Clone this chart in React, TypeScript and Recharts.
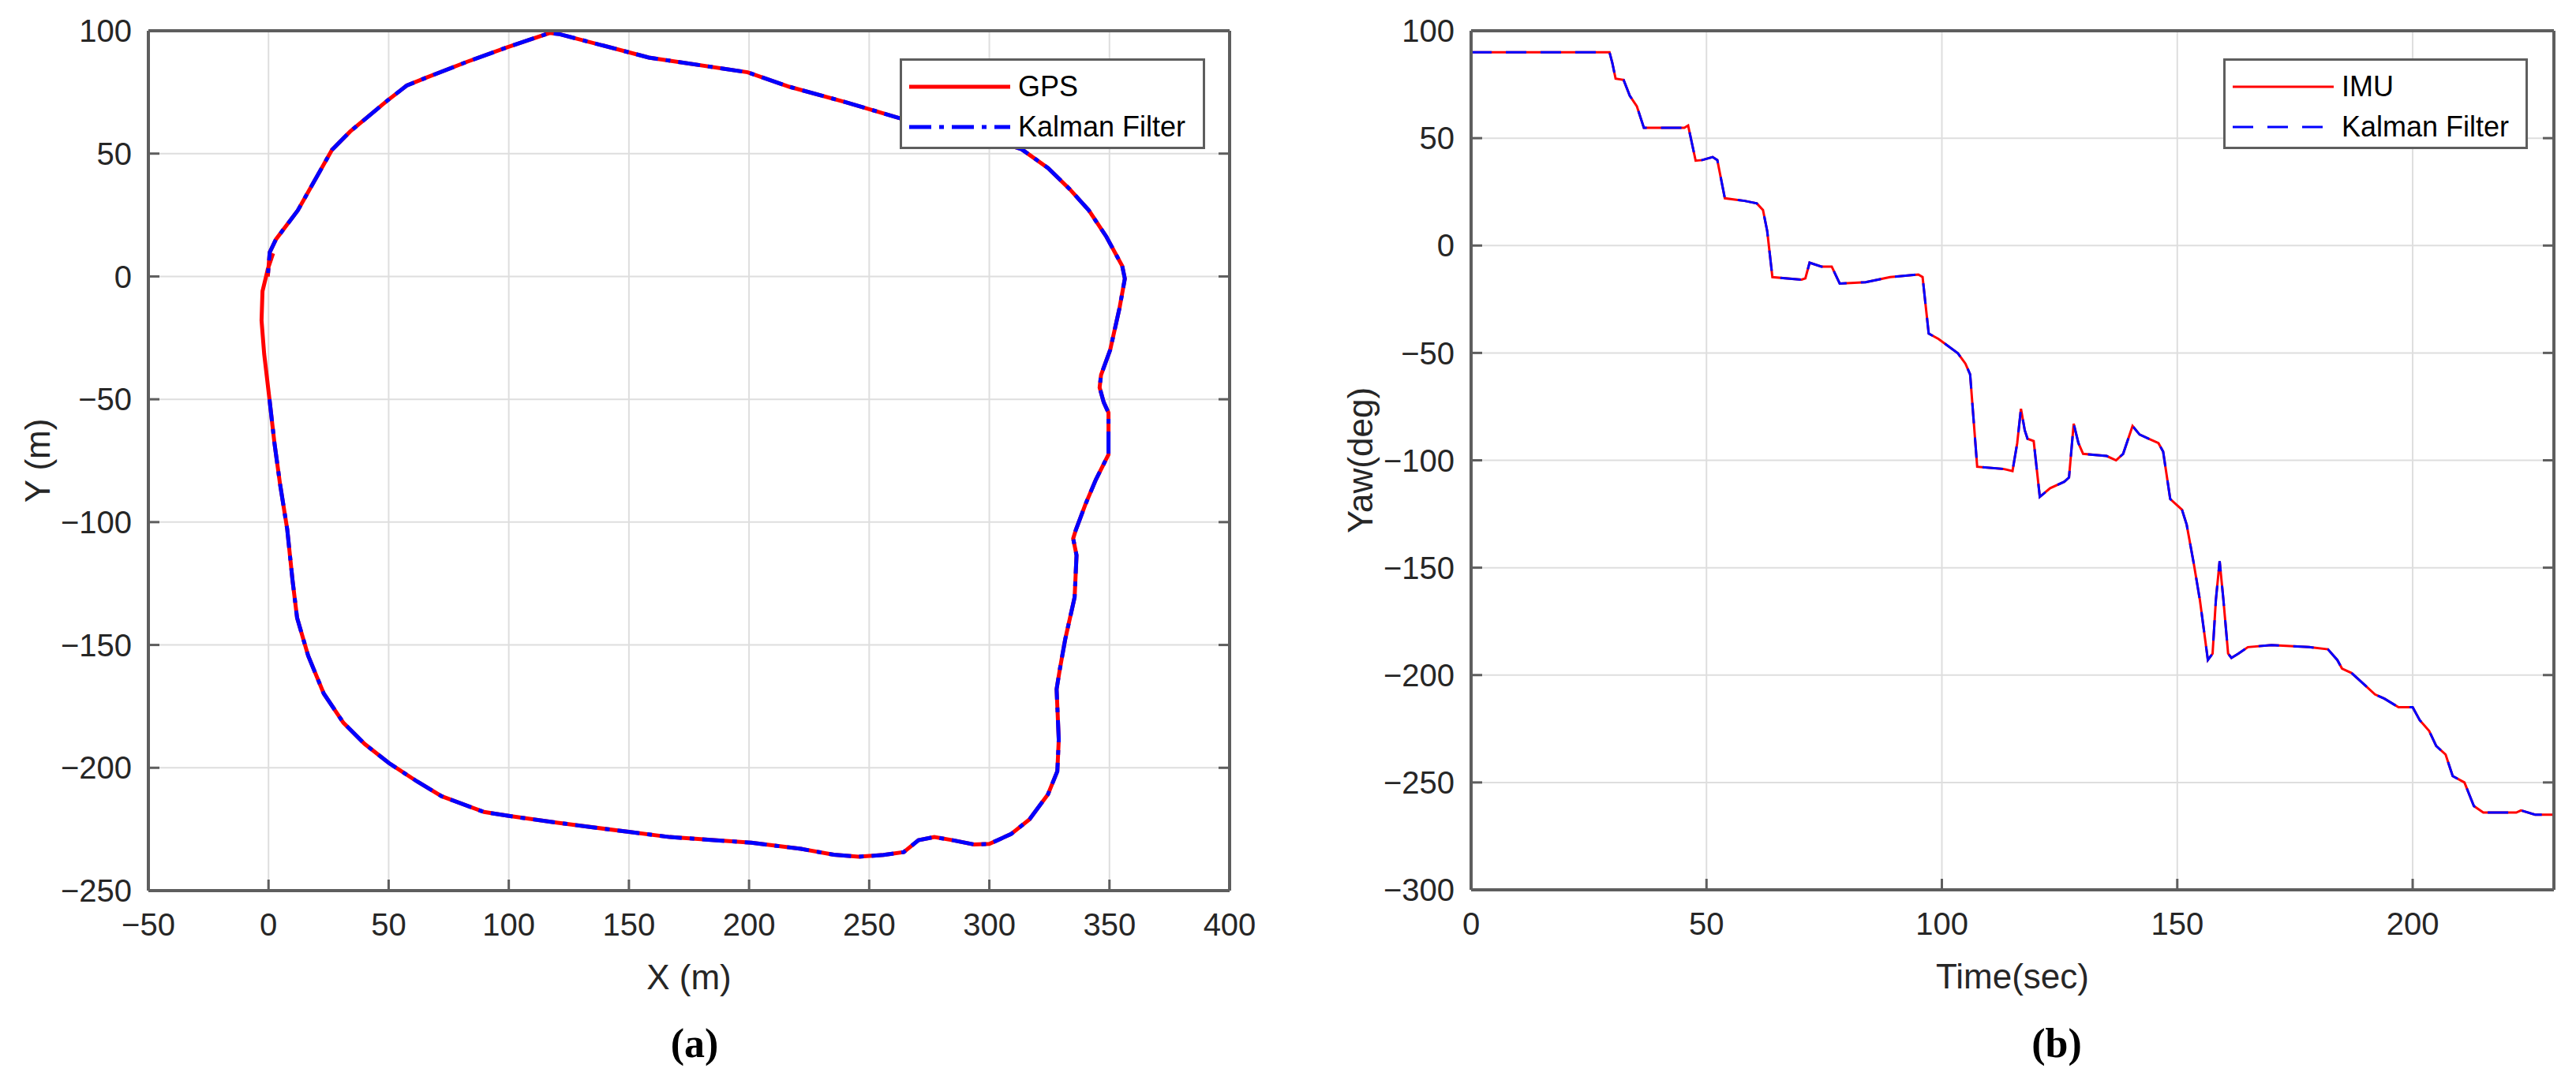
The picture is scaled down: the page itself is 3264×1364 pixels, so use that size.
import { CartesianGrid, Line, LineChart, XAxis, YAxis } from "recharts"

// (a) trajectory in metres
const loopX = [
  0.4, 2.5, 4.8, 7.8, 10, 11.9, 16.5, 23, 31.2, 40, 50, 61.9, 72.1, 89.7, 100, 120.4,
  150, 167, 201, 221.6, 235.3, 245.6, 256, 264.4, 270.5, 277.1, 284.8, 293.6, 300, 309,
  316.7, 324.4, 328.3, 328.9, 328, 329.4, 331.6, 335.5, 336.3, 334.9, 336, 339.9, 344.3,
  349.6, 349.6, 347.6, 345.9, 346.5, 350.3, 354.2, 356.4, 355.3, 348.7, 341.4, 333.5,
  324.5, 313.4, 300, 285, 262.7, 240, 216.8, 199.4, 158.3, 121.2, 117, 99.4, 82.7, 65.9,
  57.5, 49.1, 34, 26.4, 12.2, 3.1, 0.5, -0.3,
]
const loopY = [
  -50, -68, -84.5, -103, -123.7, -139, -154.4, -169.8, -181.7, -190.3, -198, -205.6,
  -211.6, -218, -219.6, -222.4, -226.1, -228.2, -230.5, -233, -235.4, -236.2, -235.5,
  -234.3, -229.5, -228.2, -229.5, -231.2, -231, -227, -221, -210.8, -201.4, -188.6, -168,
  -159.6, -147.6, -130.6, -113.5, -106.7, -103.2, -93, -82.8, -72.5, -55.5, -51.2, -45.2,
  -40.1, -29.9, -12.8, -0.9, 4.3, 16.2, 26.9, 35.5, 44.1, 51.8, 56, 60, 64.4, 71, 77.2,
  83.1, 89.1, 98.6, 99.1, 93.3, 87.4, 81, 77.7, 71.3, 59, 51.5, 26.9, 15.1, 9.8, 0,
]
// GPS only: the short stretch near the origin before the filter starts
const leadX = [1.9, -0.3, -1, -2.5, -2.9, -1.8]
const leadY = [9.4, 3, 0, -6, -17.9, -31.6]

const xTicks = [-50, 0, 50, 100, 150, 200, 250, 300, 350, 400]
const yTicks = [-250, -200, -150, -100, -50, 0, 50, 100]

// (b) yaw against time
const yawT = [
  0, 29.4, 30, 30.7, 32.4, 33.7, 35.2, 36.7, 45.3, 46.1, 47.7, 49.1, 51.3, 52.3, 53.9, 58.1,
  60.7, 62, 62.9, 64, 70.2, 71, 71.9, 74.4, 76.6, 78.3, 83.8, 89, 95, 95.9, 97.2, 99.3,
  103.4, 105, 106, 107.5, 113, 115, 116, 116.8, 117.6, 118.2, 119.5, 120.8, 123, 126, 127,
  128, 129, 130, 135, 137, 138.5, 140.5, 142, 144, 146, 147, 148.5, 151, 152, 153.5, 154.8,
  156.5, 157.5, 158.2, 159, 159.8, 160.8, 161.5, 163, 165, 170, 178, 182, 184, 185, 187,
  189, 192, 194, 197, 200, 201.5, 203.5, 205, 207, 208.5, 211, 213, 215, 222, 223, 226, 230,
]
const yawDeg = [
  90, 90, 85, 77.7, 77.1, 69.8, 64.9, 54.8, 54.8, 55.9, 39.5, 39.8, 41.2, 39.8, 22, 20.8,
  19.6, 16.5, 6.7, -14.7, -15.9, -15.3, -8, -9.8, -9.8, -17.7, -17.1, -14.7, -13.5, -14.7,
  -41, -43.5, -50.2, -55, -60, -103, -104, -105, -92, -76, -86, -90, -91, -117, -113, -110,
  -108, -83, -92, -97, -98, -100, -97, -84, -88, -90, -92, -96, -118, -123, -130, -148,
  -165, -193, -190, -165, -147, -165, -190, -192, -190, -187, -186, -187, -188, -193, -197,
  -199, -203, -209, -211, -215, -215, -221, -226, -233, -237, -247, -250, -261, -264, -264,
  -263, -265, -265,
]
const tTicks = [0, 50, 100, 150, 200]
const yawTicks = [-300, -250, -200, -150, -100, -50, 0, 50, 100]

const FONT = '"Liberation Sans", Arial, Helvetica, sans-serif'
const INK = "#262626"
const FRAME = "#5e5e5e"
const GRID = "#dedede"

const zip = (xs: number[], ys: number[]) => xs.map((x, i) => ({ x, y: ys[i] }))
const fmt = (v: number) => (v < 0 ? `\u2212${-v}` : `${v}`)

const tickStyle = { fontSize: 40, fill: INK, fontFamily: FONT }
const blank = () => <g />

const xTitle =
  (text: string) =>
  ({ viewBox }: { viewBox?: any }) => {
    const { x, y, width } = viewBox
    return (
      <text
        x={x + width / 2}
        y={y + 109}
        textAnchor="middle"
        dominantBaseline="central"
        fontSize={44}
        fontFamily={FONT}
        fill={INK}
      >
        {text}
      </text>
    )
  }

const yTitle =
  (text: string, cx: number) =>
  ({ viewBox }: { viewBox?: any }) => {
    const { x, y, height } = viewBox
    const px = x + cx
    const py = y + height / 2
    return (
      <text
        x={px}
        y={py}
        transform={`rotate(-90 ${px} ${py})`}
        textAnchor="middle"
        dominantBaseline="central"
        fontSize={44}
        fontFamily={FONT}
        fill={INK}
      >
        {text}
      </text>
    )
  }

type LegendItem = { label: string; color: string; dash?: string; width: number }

const LegendBox = ({
  left,
  top,
  width,
  items,
}: {
  left: number
  top: number
  width: number
  items: LegendItem[]
}) => (
  <div
    style={{
      position: "absolute",
      left,
      top,
      width,
      height: 115,
      boxSizing: "border-box",
      border: `3px solid ${FRAME}`,
      background: "#fff",
    }}
  >
    {items.map((it, i) => (
      <div
        key={it.label}
        style={{
          position: "absolute",
          left: 9,
          top: 10 + i * 51,
          height: 46,
          display: "flex",
          alignItems: "center",
        }}
      >
        <svg width={128} height={12}>
          <line
            x1={0}
            x2={128}
            y1={6}
            y2={6}
            stroke={it.color}
            strokeWidth={it.width}
            strokeDasharray={it.dash}
          />
        </svg>
        <span
          style={{
            marginLeft: 10,
            fontFamily: FONT,
            fontSize: 36,
            color: "#000",
            whiteSpace: "nowrap",
          }}
        >
          {it.label}
        </span>
      </div>
    ))}
  </div>
)

const Caption = ({ text, cx }: { text: string; cx: number }) => (
  <div
    style={{
      position: "absolute",
      left: cx - 100,
      top: 1296,
      width: 200,
      textAlign: "center",
      fontFamily: '"Liberation Serif", "Times New Roman", serif',
      fontWeight: "bold",
      fontSize: 52,
      lineHeight: "54px",
      color: "#000",
    }}
  >
    {text}
  </div>
)

const TrajectoryChart = () => {
  const gps = zip([...leadX, ...loopX], [...leadY, ...loopY])
  const kalman = zip(loopX, loopY)
  return (
    <LineChart width={1600} height={1364} margin={{ top: 38, right: 41, bottom: 135, left: 0 }}>
      <CartesianGrid stroke={GRID} strokeWidth={2} />
      <XAxis
        type="number"
        dataKey="x"
        domain={[-50, 400]}
        ticks={xTicks}
        tickFormatter={fmt}
        tick={tickStyle}
        tickSize={-14}
        tickMargin={43}
        height={100}
        axisLine={{ stroke: FRAME, strokeWidth: 4 }}
        tickLine={{ stroke: FRAME, strokeWidth: 3 }}
        allowDataOverflow
        label={xTitle("X (m)")}
      />
      <XAxis
        xAxisId="top"
        orientation="top"
        type="number"
        domain={[-50, 400]}
        ticks={xTicks}
        tick={blank}
        tickSize={-14}
        height={1}
        axisLine={{ stroke: FRAME, strokeWidth: 4 }}
        tickLine={{ stroke: FRAME, strokeWidth: 3 }}
        allowDataOverflow
      />
      <YAxis
        type="number"
        domain={[-250, 100]}
        ticks={yTicks}
        tickFormatter={fmt}
        tick={tickStyle}
        tickSize={-14}
        tickMargin={35}
        width={188}
        axisLine={{ stroke: FRAME, strokeWidth: 4 }}
        tickLine={{ stroke: FRAME, strokeWidth: 3 }}
        allowDataOverflow
        label={yTitle("Y (m)", 47)}
      />
      <YAxis
        yAxisId="right"
        orientation="right"
        type="number"
        domain={[-250, 100]}
        ticks={yTicks}
        tick={blank}
        tickSize={-14}
        width={1}
        axisLine={{ stroke: FRAME, strokeWidth: 4 }}
        tickLine={{ stroke: FRAME, strokeWidth: 3 }}
        allowDataOverflow
      />
      <Line
        data={gps}
        dataKey="y"
        type="linear"
        stroke="#ff0000"
        strokeWidth={5}
        dot={false}
        isAnimationActive={false}
      />
      <Line
        data={kalman}
        dataKey="y"
        type="linear"
        stroke="#0000ff"
        strokeWidth={5}
        strokeDasharray="28 10 6 10"
        dot={false}
        isAnimationActive={false}
      />
    </LineChart>
  )
}

const YawChart = () => {
  const imu = zip(yawT, yawDeg)
  return (
    <LineChart width={1624} height={1364} margin={{ top: 38, right: 27, bottom: 136, left: 0 }}>
      <CartesianGrid stroke={GRID} strokeWidth={2} />
      <XAxis
        type="number"
        dataKey="x"
        domain={[0, 230]}
        ticks={tTicks}
        tick={tickStyle}
        tickSize={-14}
        tickMargin={43}
        height={100}
        axisLine={{ stroke: FRAME, strokeWidth: 4 }}
        tickLine={{ stroke: FRAME, strokeWidth: 3 }}
        allowDataOverflow
        label={xTitle("Time(sec)")}
      />
      <XAxis
        xAxisId="top"
        orientation="top"
        type="number"
        domain={[0, 230]}
        ticks={tTicks}
        tick={blank}
        tickSize={-14}
        height={1}
        axisLine={{ stroke: FRAME, strokeWidth: 4 }}
        tickLine={{ stroke: FRAME, strokeWidth: 3 }}
        allowDataOverflow
      />
      <YAxis
        type="number"
        domain={[-300, 100]}
        ticks={yawTicks}
        tickFormatter={fmt}
        tick={tickStyle}
        tickSize={-14}
        tickMargin={35}
        width={224}
        axisLine={{ stroke: FRAME, strokeWidth: 4 }}
        tickLine={{ stroke: FRAME, strokeWidth: 3 }}
        allowDataOverflow
        label={yTitle("Yaw(deg)", 83)}
      />
      <YAxis
        yAxisId="right"
        orientation="right"
        type="number"
        domain={[-300, 100]}
        ticks={yawTicks}
        tick={blank}
        tickSize={-14}
        width={1}
        axisLine={{ stroke: FRAME, strokeWidth: 4 }}
        tickLine={{ stroke: FRAME, strokeWidth: 3 }}
        allowDataOverflow
      />
      <Line
        data={imu}
        dataKey="y"
        type="linear"
        stroke="#ff0000"
        strokeWidth={3}
        dot={false}
        isAnimationActive={false}
      />
      <Line
        data={imu}
        dataKey="y"
        type="linear"
        stroke="#0000ff"
        strokeWidth={3}
        strokeDasharray="26 18"
        dot={false}
        isAnimationActive={false}
      />
    </LineChart>
  )
}

export default function App() {
  return (
    <div
      style={{
        position: "absolute",
        left: 0,
        top: 0,
        width: 3264,
        height: 1364,
        background: "#fff",
        overflow: "hidden",
      }}
    >
      <div style={{ position: "absolute", left: 0, top: 0 }}>
        <TrajectoryChart />
      </div>
      <div style={{ position: "absolute", left: 1640, top: 0 }}>
        <YawChart />
      </div>
      <LegendBox
        left={1140}
        top={74}
        width={387}
        items={[
          { label: "GPS", color: "#ff0000", width: 5 },
          { label: "Kalman Filter", color: "#0000ff", width: 5, dash: "28 10 6 10" },
        ]}
      />
      <LegendBox
        left={2817}
        top={74}
        width={386}
        items={[
          { label: "IMU", color: "#ff0000", width: 3 },
          { label: "Kalman Filter", color: "#0000ff", width: 3, dash: "26 18" },
        ]}
      />
      <Caption text="(a)" cx={880} />
      <Caption text="(b)" cx={2606} />
    </div>
  )
}
